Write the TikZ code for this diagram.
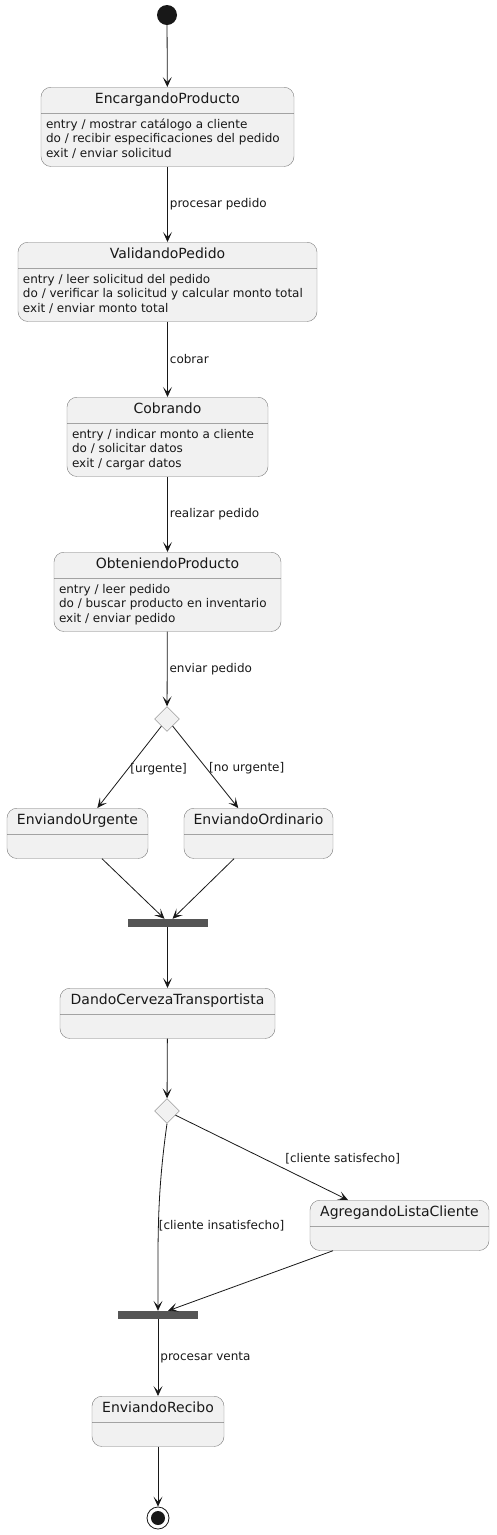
\documentclass[tikz,border=0pt]{standalone}
\usepackage{fontspec}
\setmainfont{DejaVu Sans}
\definecolor{umlfill}{HTML}{F1F1F1}
\definecolor{umlline}{HTML}{181818}
\definecolor{umledge}{HTML}{7A7A7A}
\definecolor{umlbar}{HTML}{555555}
\usetikzlibrary{arrows.meta,shapes.multipart,shapes.geometric}
\newcommand{\sttitle}[1]{{\fontsize{14}{17}\selectfont\strut #1}}
\newcommand{\stbody}[1]{\begin{tabular}{@{}l@{}}#1\end{tabular}}

\begin{document}
\begin{tikzpicture}[x=1pt, y=-1pt,
  st/.style={rectangle split, rectangle split parts=2,
    rectangle split part align={center,left}, draw=umledge, fill=umlfill,
    rounded corners=10pt, inner xsep=5pt, inner ysep=4.5pt, anchor=north,
    font=\fontsize{12}{14.5}\selectfont, text=umlline},
  choice/.style={diamond, draw=umledge, fill=umlfill, minimum size=25pt, inner sep=0pt},
  bar/.style={fill=umlbar, minimum width=80pt, minimum height=8pt, inner sep=0pt},
  tr/.style={-{Stealth[length=10pt,width=9pt,inset=5pt]}, umlline, line width=0.8pt},
  lbl/.style={font=\fontsize{12}{14}\selectfont, text=umlline, inner sep=2pt}]
\useasboundingbox (0,0) rectangle (496,1535);
\node[circle, fill=umlline, minimum size=20pt, inner sep=0pt] (inicio) at (167,15) {};
\node[st, minimum width=253pt] (encargando) at (167.5,87) {\sttitle{EncargandoProducto}\nodepart{two}\stbody{entry / mostrar catálogo a cliente\\do / recibir especificaciones del pedido\\exit / enviar solicitud}};
\node[st, minimum width=299pt] (validando) at (167.5,242) {\sttitle{ValidandoPedido}\nodepart{two}\stbody{entry / leer solicitud del pedido\\do / verificar la solicitud y calcular monto total\\exit / enviar monto total}};
\node[st, minimum width=201pt] (cobrando) at (167.5,397) {\sttitle{Cobrando}\nodepart{two}\stbody{entry / indicar monto a cliente\\do / solicitar datos\\exit / cargar datos}};
\node[st, minimum width=227pt] (obteniendo) at (167.5,552) {\sttitle{ObteniendoProducto}\nodepart{two}\stbody{entry / leer pedido\\do / buscar producto en inventario\\exit / enviar pedido}};
\node[choice] (envio) at (167,719) {};
\node[st, minimum width=141pt] (urgente) at (77.5,808) {\sttitle{EnviandoUrgente}\nodepart{two}\strut};
\node[st, minimum width=149pt] (ordinario) at (258.5,808) {\sttitle{EnviandoOrdinario}\nodepart{two}\strut};
\node[bar] (unionA) at (167.5,923) {};
\node[st, minimum width=215pt] (cerveza) at (167.5,988) {\sttitle{DandoCervezaTransportista}\nodepart{two}\strut};
\node[choice] (satisf) at (167,1111) {};
\node[st, minimum width=179pt] (lista) at (399.5,1200) {\sttitle{AgregandoListaCliente}\nodepart{two}\strut};
\node[bar] (unionB) at (158,1315) {};
\node[st, minimum width=132pt] (recibo) at (158,1396) {\sttitle{EnviandoRecibo}\nodepart{two}\strut};
\node[circle, draw=umlline, fill=white, line width=0.8pt, minimum size=22pt, inner sep=0pt] (fin) at (158,1518) {};
\node[circle, fill=umlline, minimum size=14pt, inner sep=0pt] (finIn) at (fin) {};
\draw[tr] (inicio) -- (encargando);
\draw[tr] (encargando) -- node[lbl, right] {procesar pedido} (validando);
\draw[tr] (validando) -- node[lbl, right] {cobrar} (cobrando);
\draw[tr] (cobrando) -- node[lbl, right] {realizar pedido} (obteniendo);
\draw[tr] (obteniendo) -- node[lbl, right] {enviar pedido} (envio);
\draw[tr] (envio) -- node[lbl, right, pos=0.52] {[urgente]} (urgente);
\draw[tr] (envio) -- node[lbl, right, pos=0.52] {[no urgente]} (ordinario);
\draw[tr] ([xshift=24.5pt]urgente.south) -- ([xshift=-3pt]unionA.north);
\draw[tr] ([xshift=-24.5pt]ordinario.south) -- ([xshift=5pt]unionA.north);
\draw[tr] (unionA) -- (cerveza);
\draw[tr] (cerveza) -- (satisf);
\draw[tr] (satisf) -- node[lbl, anchor=south west, pos=0.6, xshift=4pt] {[cliente satisfecho]} (lista);
\draw[tr] (satisf.south) to[out=262, in=90] node[lbl, anchor=west, pos=0.55, xshift=-2pt] {[cliente insatisfecho]} (unionB.north);
\draw[tr] ([xshift=-66.5pt]lista.south) -- ([xshift=10pt]unionB.north);
\draw[tr] (unionB) -- node[lbl, right] {procesar venta} (recibo);
\draw[tr] (recibo) -- (fin);
\end{tikzpicture}
\end{document}
